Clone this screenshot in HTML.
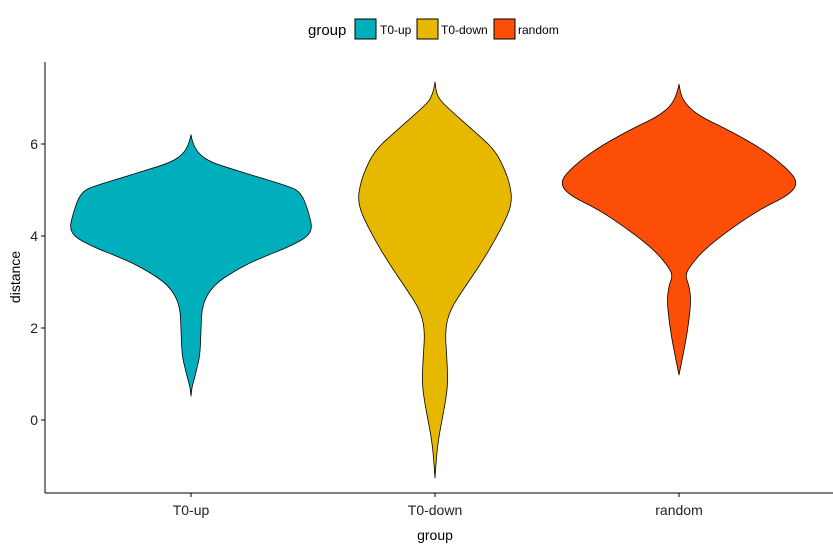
<!DOCTYPE html>
<html><head><meta charset="utf-8"><style>
body{margin:0;background:#fff;font-family:"Liberation Sans",Arial,sans-serif}
svg text{font-family:"Liberation Sans",Arial,sans-serif}
</style></head><body>
<svg id="c" width="833" height="549"></svg>
<script>
const categories=["T0-up","T0-down","random"];
const colors=["#00AFBB","#E7B800","#FC4E07"];
const yTicks=[0,2,4,6];
// distance values and density (half-width) for each group
const upY=[6.2,6.0,5.78,5.6,5.43,5.26,5.1,4.96,4.5,4.07,3.8,3.48,3.26,2.93,2.5,1.96,1.41,1.13,0.87,0.72,0.52];
const upD=[0,2,8,20,45,70,95,110,118,122,102,65,45,22,11,10,9,6,3,1,0];
const downY=[7.35,7.02,6.74,6.3,5.87,5.43,5.11,4.78,4.46,3.91,3.37,2.83,2.39,1.96,1.3,0.76,0.22,-0.22,-0.65,-1.26];
const downD=[0,2,15,38,60,70,75,77,73,60,45,28,15,10,12,13,9,5,2,0];
const randY=[7.3,6.96,6.63,6.3,5.87,5.43,5.15,4.89,4.57,4.13,3.7,3.37,3.15,2.93,2.61,2.17,1.74,1.3,0.98];
const randD=[0,3,18,50,85,110,119,110,80,50,25,12,6,10,12,10,7,3,0];
const groups=[[upY,upD],[downY,downD],[randY,randD]];
const NS="http://www.w3.org/2000/svg",svg=document.getElementById('c');
const L=45,R=833,T=62,B=493;
const yS=v=>420-v*46, xS=i=>191+i*244;
function mk(t,a,p){const e=document.createElementNS(NS,t);for(const k in a)e.setAttribute(k,a[k]);(p||svg).appendChild(e);return e;}
function smooth(pts){
 let d='M'+pts[0][0]+','+pts[0][1];
 for(let k=1;k<pts.length-1;k++){
  const mx=(pts[k][0]+pts[k+1][0])/2,my=(pts[k][1]+pts[k+1][1])/2;
  d+=' Q'+pts[k][0]+','+pts[k][1]+' '+mx+','+my;
 }
 const e=pts[pts.length-1];d+=' L'+e[0]+','+e[1];return d;
}
let ax=mk('line',{x1:L,y1:T,x2:L,y2:B,stroke:'#000','stroke-width':1});

ax=mk('line',{x1:L,y1:B,x2:R,y2:B,stroke:'#000','stroke-width':1});

yTicks.forEach(v=>{
 const t=mk('line',{x1:L-4,x2:L,y1:yS(v),y2:yS(v),stroke:'#000'});
 
 const l=mk('text',{x:L-7,y:yS(v)+5,'text-anchor':'end','font-size':14,fill:'#222'});l.textContent=v;
 
});
categories.forEach((c,i)=>{
 const t=mk('line',{x1:xS(i),x2:xS(i),y1:B,y2:B+4,stroke:'#000'});
 
 const l=mk('text',{x:xS(i),y:B+22,'text-anchor':'middle','font-size':14,fill:'#222'});l.textContent=c;
 
 const [ys,ds]=groups[i];
 const left=ys.map((y,k)=>[xS(i)-ds[k],yS(y)]);
 const right=ys.map((y,k)=>[xS(i)+ds[k],yS(y)]).reverse();
 const p=mk('path',{d:smooth(left.concat(right))+' Z',fill:colors[i],stroke:'#000','stroke-width':0.8,'stroke-linejoin':'round'});
 
});
let t=mk('text',{x:435,y:540,'text-anchor':'middle','font-size':14,fill:'#000'});t.textContent='group';

t=mk('text',{x:0,y:0,'text-anchor':'middle','font-size':14,fill:'#000',transform:'translate(20,277) rotate(-90)'});t.textContent='distance';

t=mk('text',{x:308,y:35,'font-size':15,fill:'#000'});t.textContent='group';

const lx=[355,417,494],tx=[380,441,518];
categories.forEach((c,i)=>{
 const r=mk('rect',{x:lx[i],y:19,width:21,height:20,fill:colors[i],stroke:'#000','stroke-width':1});
 
 const l=mk('text',{x:tx[i],y:34,'font-size':12,fill:'#000'});l.textContent=c;
 
});
</script>
</body></html>
